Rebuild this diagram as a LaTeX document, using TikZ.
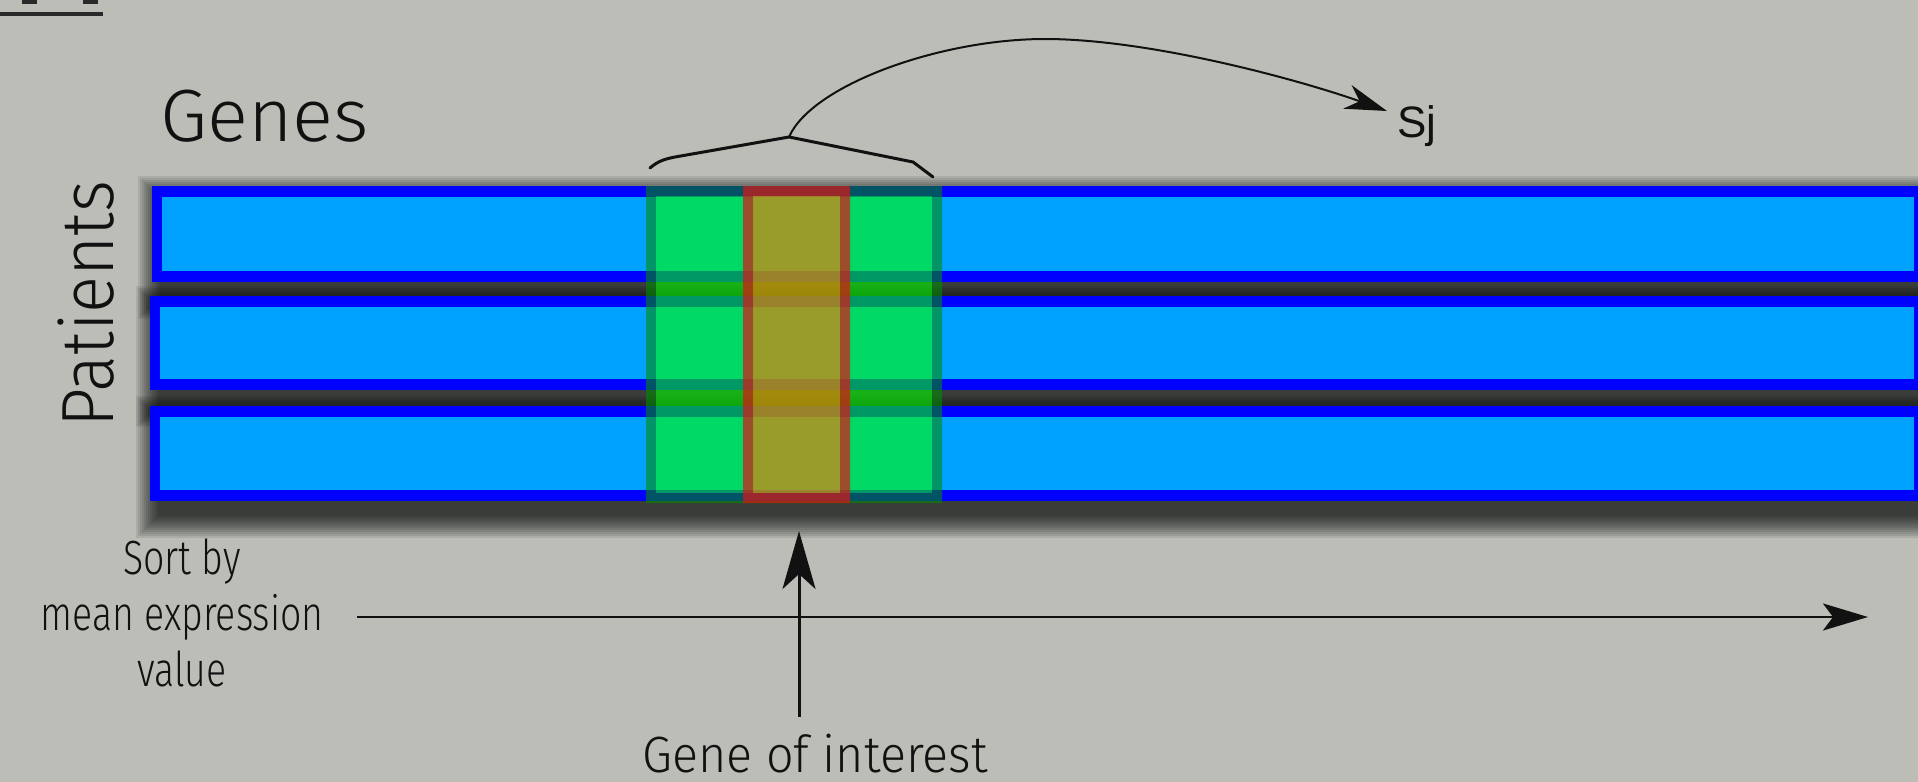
\documentclass[tikz,border=0pt]{standalone}
\usepackage{fontspec}
\usepackage{graphicx}
\setmainfont{Liberation Sans}
\newfontfamily\hand{Fira Sans Light}
\usetikzlibrary{arrows.meta}

\definecolor{paper}{RGB}{187,189,182}
\definecolor{barline}{RGB}{0,0,255}
\definecolor{barfill}{RGB}{0,162,255}
\definecolor{winfill}{RGB}{0,255,0}
\definecolor{winline}{RGB}{0,140,0}
\definecolor{goifill}{RGB}{255,115,5}
\definecolor{goiline}{RGB}{220,20,20}
\definecolor{ink}{RGB}{17,17,17}

% narrow hand lettering
\newcommand{\slim}[2][0.78]{\scalebox{#1}[1]{#2}}

\tikzset{
  lbl/.style={inner sep=0pt, text=ink},
  handlbl/.style={lbl, font=\hand},
  link/.style={draw=ink, line width=1.4pt},
}

\begin{document}
\begin{tikzpicture}[x=0.5pt, y=-0.5pt]
  % canvas
  \fill[paper] (0,0) rectangle (1918,782);
  \useasboundingbox (0,0) rectangle (1918,782);
  \begin{scope}
    \clip (0,0) rectangle (1918,782);

    % heading fragment in the corner
    \fill[ink!90] (22,0) rectangle (37,4);
    \fill[ink!90] (83,0) rectangle (98,4);
    \fill[ink!90] (0,12) rectangle (103,16);

    % soft drop shadows of the patient rows
    \foreach \t/\b/\l in {186/282/152, 296/390/150, 406/501/150} {
      \foreach \k in {1,...,12} {
        \fill[black, opacity=0.085]
          (\l+10-\k*2, \t+14-\k*2) rectangle (1950, \b+13+\k*2);
      }
    }

    % patient rows
    \foreach \t/\b/\l in {186/282/152, 296/390/150, 406/501/150} {
      \fill[barline] (\l,\t) rectangle (1923,\b);
      \fill[barfill] (\l+10,\t+11) rectangle (1914,\b-11);
    }

    % window of neighbouring genes
    \fill[winline, opacity=0.6, even odd rule]
      (646,186) rectangle (942,503) (656,196) rectangle (932,493);
    \fill[winfill, opacity=0.6] (656,196) rectangle (932,493);

    % gene of interest column
    \fill[goiline, opacity=0.7, even odd rule]
      (743,186) rectangle (850,503) (753,196) rectangle (840,493);
    \fill[goifill, opacity=0.6] (753,196) rectangle (840,493);
  \end{scope}

  % labels
  \node[handlbl, anchor=base west, font=\hand\fontsize{37}{40}\selectfont]
    (genes) at (160,141) {\slim[1.03]{Genes}};
  \node[handlbl, rotate=90, anchor=base west, font=\hand\fontsize{37}{40}\selectfont]
    (patients) at (113,428) {\slim[0.93]{Patients}};
  \node[handlbl, align=center, anchor=north, font=\hand\fontsize{24}{28}\selectfont]
    (sort) at (182,538) {\slim{Sort by}\\\slim{mean expression}\\\slim{value}};
  \node[handlbl, anchor=base, font=\hand\fontsize{25.5}{30}\selectfont]
    (goi) at (815,772) {\slim[0.95]{Gene of interest}};
  \node[lbl, anchor=base west, font=\fontsize{22}{26}\selectfont]
    (sj) at (1397,137) {Sj};

  % connector points
  \coordinate (braceL) at (650,168);
  \coordinate (braceTop) at (789,137);
  \coordinate (braceR) at (933,177);
  \coordinate (sjTip) at (1387,111);
  \coordinate (sortTail) at (357,617);
  \coordinate (sortTip) at (1868,617);
  \coordinate (goiTail) at (799,717);
  \coordinate (goiTip) at (799,531);

  % brace over the window
  \draw[link, line width=1.5pt, line join=round, line cap=round]
    (braceL) .. controls (658,161) and (665,159) .. (675,157)
    -- (braceTop) -- (913,162) -- (braceR);

  % window summarised as Sj
  \draw[link, line width=1pt, -{Stealth[length=21pt, width=12.5pt, inset=6.5pt]}]
    (braceTop) .. controls (812,85) and (940,39) .. (1045,39)
    .. controls (1150,39) and (1300,80) .. (sjTip);

  % sorting axis
  \draw[link, -{Stealth[length=22.5pt, width=13.5pt, inset=5pt]}]
    (sortTail) -- (sortTip);

  % pointer to the gene of interest
  \draw[link, line width=1.5pt, -{Stealth[length=29pt, width=16.5pt, inset=7.5pt]}]
    (goiTail) -- (goiTip);
\end{tikzpicture}
\end{document}
